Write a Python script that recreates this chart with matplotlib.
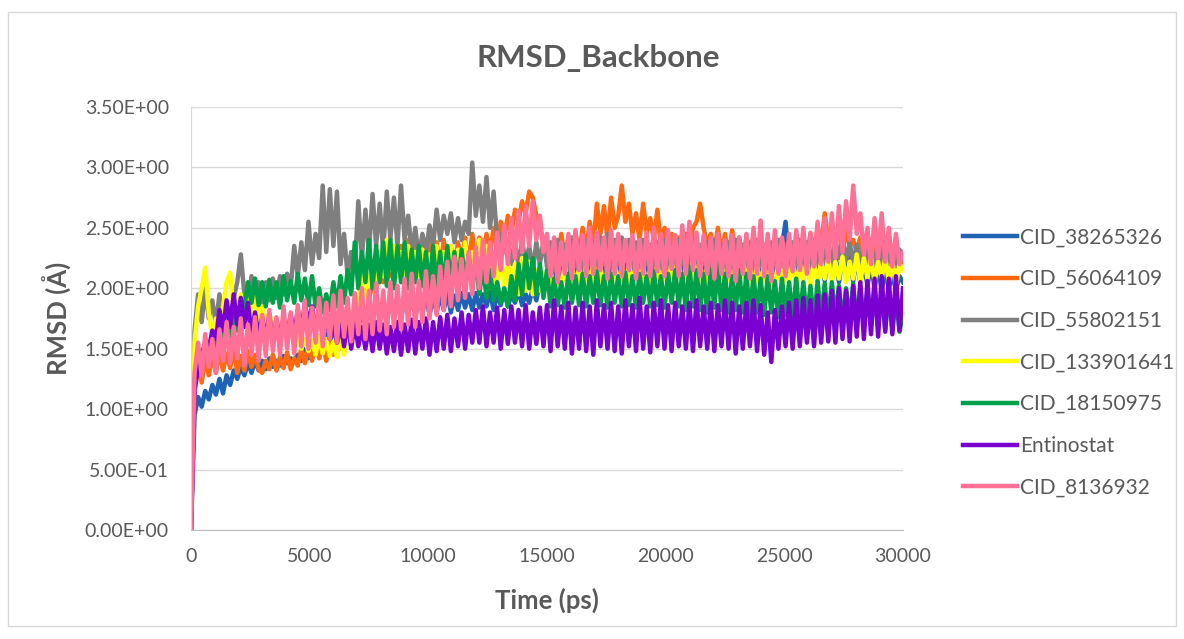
import numpy as np
import matplotlib.pyplot as plt
from matplotlib.patches import Rectangle
from matplotlib.ticker import FuncFormatter

plt.rcParams['font.family'] = ['Lato', 'DejaVu Sans']

# time grid (ps), one sample every 150 ps
time_ps = np.linspace(0, 30000, 201)

cid_38265326 = [
    0.00, 0.95, 1.10, 1.02, 1.15, 1.08, 1.20, 1.12, 1.25, 1.13,
    1.28, 1.20, 1.32, 1.25, 1.35, 1.28, 1.38, 1.30, 1.40, 1.32,
    1.40, 1.33, 1.42, 1.35, 1.40, 1.36, 1.44, 1.38, 1.42, 1.40,
    1.45, 1.40, 1.50, 1.42, 1.55, 1.45, 1.60, 1.50, 1.62, 1.55,
    1.65, 1.58, 1.70, 1.60, 1.72, 1.65, 1.78, 1.68, 1.80, 1.70,
    1.85, 1.72, 1.90, 1.75, 1.88, 1.76, 1.92, 1.78, 1.90, 1.75,
    1.92, 1.78, 1.95, 1.76, 1.92, 1.80, 1.95, 1.78, 1.93, 1.80,
    1.95, 1.82, 1.96, 1.80, 1.94, 1.82, 1.96, 1.84, 1.95, 1.82,
    1.96, 1.84, 1.95, 1.85, 1.97, 1.82, 1.95, 1.86, 1.98, 1.85,
    1.95, 1.88, 1.98, 1.86, 1.95, 1.88, 2.00, 1.90, 2.05, 2.10,
    2.10, 2.28, 2.06, 2.25, 2.08, 2.30, 2.05, 2.26, 2.10, 2.28,
    2.08, 2.30, 2.05, 2.26, 2.10, 2.28, 2.06, 2.25, 2.08, 2.30,
    2.05, 2.28, 2.10, 2.26, 2.06, 2.30, 2.08, 2.25, 2.05, 2.28,
    2.10, 2.30, 2.06, 2.26, 2.08, 2.28, 2.05, 2.25, 2.10, 2.30,
    2.06, 2.28, 2.08, 2.26, 2.05, 2.30, 2.10, 2.28, 2.06, 2.25,
    2.08, 2.30, 2.05, 2.26, 2.10, 2.28, 2.06, 2.25, 2.08, 2.30,
    2.05, 2.28, 2.10, 2.26, 2.08, 2.30, 2.35, 2.55, 2.20, 2.28,
    2.05, 2.26, 2.08, 2.28, 2.05, 2.25, 2.10, 2.28, 2.06, 2.26,
    2.08, 2.28, 2.05, 2.25, 2.10, 2.28, 2.06, 2.25, 2.05, 2.22,
    2.02, 2.20, 2.00, 2.18, 1.98, 2.15, 2.00, 2.12, 1.98, 2.10,
    2.05]

cid_56064109 = [
    0.00, 1.15, 1.38, 1.22, 1.42, 1.28, 1.45, 1.30, 1.48, 1.32,
    1.46, 1.34, 1.50, 1.30, 1.44, 1.32, 1.48, 1.35, 1.45, 1.33,
    1.30, 1.40, 1.33, 1.45, 1.32, 1.43, 1.34, 1.47, 1.33, 1.42,
    1.36, 1.50, 1.38, 1.52, 1.40, 1.55, 1.42, 1.54, 1.40, 1.56,
    1.45, 1.60, 1.50, 1.65, 1.60, 1.75, 1.70, 1.88, 1.80, 1.98,
    1.90, 2.05, 1.98, 2.15, 2.05, 2.22, 2.10, 2.30, 2.15, 2.35,
    2.20, 2.40, 2.25, 2.45, 2.22, 2.42, 2.20, 2.40, 2.18, 2.38,
    2.15, 2.40, 2.18, 2.35, 2.15, 2.38, 2.20, 2.42, 2.18, 2.45,
    2.20, 2.42, 2.25, 2.45, 2.28, 2.50, 2.35, 2.55, 2.40, 2.60,
    2.45, 2.65, 2.55, 2.72, 2.62, 2.80, 2.75, 2.60, 2.50, 2.40,
    2.35, 2.20, 2.40, 2.22, 2.45, 2.25, 2.42, 2.20, 2.46, 2.28,
    2.50, 2.30, 2.55, 2.35, 2.70, 2.45, 2.68, 2.40, 2.75, 2.50,
    2.60, 2.85, 2.55, 2.70, 2.45, 2.62, 2.40, 2.70, 2.45, 2.58,
    2.40, 2.65, 2.35, 2.50, 2.30, 2.45, 2.28, 2.42, 2.25, 2.45,
    2.30, 2.50, 2.55, 2.70, 2.50, 2.35, 2.45, 2.30, 2.50, 2.28,
    2.45, 2.25, 2.48, 2.28, 2.42, 2.22, 2.40, 2.25, 2.44, 2.20,
    2.46, 2.25, 2.40, 2.20, 2.38, 2.25, 2.40, 2.22, 2.36, 2.25,
    2.40, 2.22, 2.42, 2.28, 2.45, 2.30, 2.50, 2.35, 2.62, 2.40,
    2.50, 2.35, 2.55, 2.30, 2.48, 2.35, 2.40, 2.30, 2.42, 2.25,
    2.38, 2.22, 2.40, 2.20, 2.35, 2.18, 2.32, 2.15, 2.28, 2.18,
    2.25]

cid_55802151 = [
    0.00, 1.65, 1.95, 1.72, 2.00, 1.75, 1.90, 1.70, 1.95, 1.72,
    1.88, 1.75, 1.92, 2.05, 2.28, 1.95, 1.85, 2.10, 1.90, 2.05,
    1.88, 2.05, 1.90, 2.08, 1.92, 2.10, 1.95, 2.12, 2.00, 2.35,
    2.10, 2.38, 2.15, 2.55, 2.20, 2.45, 2.25, 2.85, 2.30, 2.82,
    2.35, 2.80, 2.20, 2.45, 2.10, 2.30, 2.15, 2.72, 2.25, 2.65,
    2.30, 2.78, 2.35, 2.70, 2.30, 2.80, 2.40, 2.75, 2.35, 2.85,
    2.40, 2.60, 2.30, 2.50, 2.25, 2.45, 2.30, 2.52, 2.35, 2.65,
    2.40, 2.60, 2.45, 2.62, 2.38, 2.58, 2.40, 2.55, 2.45, 3.04,
    2.60, 2.85, 2.55, 2.92, 2.50, 2.80, 2.40, 2.45, 2.30, 2.40,
    2.20, 2.38, 2.18, 2.40, 2.20, 2.35, 2.15, 2.38, 2.20, 2.40,
    2.18, 2.38, 2.15, 2.40, 2.20, 2.36, 2.16, 2.42, 2.18, 2.38,
    2.15, 2.40, 2.20, 2.38, 2.16, 2.42, 2.20, 2.45, 2.18, 2.40,
    2.20, 2.42, 2.25, 2.40, 2.18, 2.38, 2.15, 2.40, 2.20, 2.36,
    2.16, 2.38, 2.18, 2.40, 2.15, 2.36, 2.18, 2.40, 2.20, 2.38,
    2.15, 2.40, 2.18, 2.36, 2.20, 2.38, 2.15, 2.40, 2.18, 2.36,
    2.16, 2.38, 2.15, 2.40, 2.20, 2.36, 2.18, 2.38, 2.15, 2.40,
    2.18, 2.36, 2.15, 2.38, 2.20, 2.40, 2.18, 2.36, 2.15, 2.38,
    2.20, 2.40, 2.18, 2.38, 2.15, 2.36, 2.20, 2.40, 2.22, 2.38,
    2.20, 2.40, 2.25, 2.42, 2.22, 2.38, 2.20, 2.36, 2.18, 2.40,
    2.20, 2.38, 2.18, 2.36, 2.15, 2.38, 2.20, 2.35, 2.18, 2.32,
    2.25]

cid_133901641 = [
    0.00, 1.55, 1.85, 2.00, 2.17, 1.80, 1.60, 1.75, 1.55, 1.85,
    2.05, 2.13, 1.80, 1.70, 1.95, 1.75, 2.00, 1.80, 1.95, 1.75,
    1.85, 1.70, 1.80, 1.65, 1.75, 1.60, 1.72, 1.58, 1.70, 1.55,
    1.62, 1.50, 1.58, 1.48, 1.57, 1.45, 1.60, 1.46, 1.58, 1.44,
    1.56, 1.43, 1.60, 1.45, 1.62, 1.70, 1.95, 1.85, 2.10, 1.80,
    2.05, 2.20, 2.00, 2.30, 2.10, 2.40, 2.15, 2.35, 2.10, 2.30,
    2.12, 2.35, 2.08, 2.30, 2.10, 2.32, 2.05, 2.28, 2.10, 2.35,
    2.12, 2.30, 2.15, 2.35, 2.10, 2.32, 2.12, 2.38, 2.10, 2.30,
    2.15, 2.40, 2.10, 2.35, 2.05, 2.30, 2.00, 2.28, 2.02, 2.22,
    1.98, 2.20, 1.95, 2.25, 1.98, 2.22, 1.95, 2.15, 1.98, 2.12,
    2.00, 2.15, 1.96, 2.12, 2.00, 2.20, 1.98, 2.18, 2.02, 2.16,
    1.98, 2.20, 2.00, 2.22, 2.02, 2.18, 1.98, 2.15, 2.00, 2.20,
    2.02, 2.18, 1.98, 2.20, 2.00, 2.22, 2.04, 2.18, 2.00, 2.16,
    1.98, 2.20, 2.02, 2.18, 2.00, 2.22, 2.04, 2.20, 2.00, 2.18,
    2.02, 2.25, 2.05, 2.20, 2.00, 2.18, 1.98, 2.22, 2.02, 2.20,
    2.00, 2.18, 1.98, 2.20, 2.02, 2.24, 2.05, 2.20, 2.00, 2.18,
    2.02, 2.20, 2.00, 2.18, 1.98, 2.22, 2.02, 2.20, 2.04, 2.22,
    2.02, 2.20, 2.05, 2.24, 2.02, 2.20, 2.05, 2.22, 2.08, 2.25,
    2.05, 2.22, 2.08, 2.26, 2.05, 2.22, 2.08, 2.28, 2.05, 2.25,
    2.08, 2.26, 2.05, 2.22, 2.08, 2.25, 2.05, 2.22, 2.02, 2.20,
    2.15]

cid_18150975 = [
    0.00, 1.25, 1.45, 1.35, 1.55, 1.45, 1.62, 1.50, 1.68, 1.55,
    1.70, 1.60, 1.78, 1.65, 1.82, 1.85, 2.05, 1.88, 2.08, 1.86,
    2.05, 1.85, 2.07, 1.88, 2.05, 1.84, 2.10, 1.90, 2.06, 1.88,
    2.12, 1.90, 2.08, 1.86, 2.10, 1.85, 2.00, 1.80, 1.95, 1.82,
    2.05, 1.85, 2.10, 1.88, 2.15, 1.95, 2.38, 2.00, 2.30, 2.05,
    2.40, 2.00, 2.35, 2.05, 2.38, 2.02, 2.40, 2.00, 2.35, 2.05,
    2.38, 2.00, 2.32, 2.05, 2.35, 2.02, 2.30, 1.98, 2.35, 2.00,
    2.30, 1.98, 2.35, 2.02, 2.30, 2.00, 2.32, 2.05, 2.28, 2.00,
    2.25, 1.95, 2.20, 1.92, 2.15, 1.90, 2.05, 1.88, 2.00, 1.85,
    2.10, 1.90, 2.20, 1.95, 2.28, 2.00, 2.25, 1.95, 2.20, 1.92,
    2.15, 1.85, 2.08, 1.86, 2.05, 1.84, 2.12, 1.88, 2.10, 1.86,
    2.12, 1.85, 2.10, 1.88, 2.14, 1.86, 2.10, 1.84, 2.12, 1.88,
    2.10, 1.85, 2.13, 1.86, 2.10, 1.84, 2.12, 1.88, 2.10, 1.85,
    2.14, 1.86, 2.10, 1.84, 2.12, 1.88, 2.15, 1.85, 2.12, 1.82,
    2.18, 1.85, 2.15, 1.82, 2.12, 1.80, 2.15, 1.84, 2.20, 1.82,
    2.12, 1.80, 2.10, 1.82, 2.15, 1.80, 2.12, 1.78, 2.10, 1.80,
    2.08, 1.78, 2.10, 1.80, 2.06, 1.76, 2.08, 1.78, 2.05, 1.75,
    2.08, 1.74, 2.05, 1.75, 2.02, 1.72, 2.06, 1.74, 2.04, 1.72,
    2.05, 1.75, 2.02, 1.70, 2.00, 1.72, 2.04, 1.70, 2.00, 1.68,
    1.98, 1.70, 2.00, 1.68, 1.96, 1.66, 1.98, 1.65, 1.95, 1.64,
    1.80]

entinostat = [
    0.00, 1.15, 1.35, 1.45, 1.55, 1.50, 1.65, 1.58, 1.82, 1.65,
    1.90, 1.68, 1.95, 1.70, 1.92, 1.68, 1.88, 1.62, 1.80, 1.60,
    1.76, 1.58, 1.78, 1.55, 1.74, 1.58, 1.76, 1.60, 1.78, 1.62,
    1.82, 1.64, 1.88, 1.70, 1.85, 1.66, 1.80, 1.62, 1.75, 1.58,
    1.72, 1.55, 1.70, 1.52, 1.74, 1.50, 1.72, 1.52, 1.68, 1.50,
    1.70, 1.48, 1.72, 1.50, 1.70, 1.46, 1.68, 1.48, 1.72, 1.45,
    1.70, 1.48, 1.74, 1.46, 1.72, 1.50, 1.75, 1.45, 1.72, 1.48,
    1.76, 1.50, 1.78, 1.48, 1.75, 1.52, 1.80, 1.50, 1.78, 1.55,
    1.82, 1.55, 1.85, 1.52, 1.80, 1.55, 1.84, 1.50, 1.82, 1.54,
    1.85, 1.55, 1.82, 1.52, 1.86, 1.50, 1.80, 1.54, 1.84, 1.52,
    1.86, 1.48, 1.90, 1.52, 1.85, 1.50, 1.88, 1.46, 1.84, 1.50,
    1.88, 1.48, 1.85, 1.45, 1.90, 1.52, 1.86, 1.50, 1.88, 1.48,
    1.85, 1.46, 1.90, 1.52, 1.86, 1.48, 1.92, 1.50, 1.85, 1.47,
    1.88, 1.52, 1.90, 1.50, 1.86, 1.48, 1.88, 1.52, 1.85, 1.50,
    1.88, 1.48, 1.90, 1.52, 1.85, 1.50, 1.88, 1.48, 1.86, 1.52,
    1.90, 1.50, 1.88, 1.46, 1.85, 1.50, 1.88, 1.52, 1.90, 1.48,
    1.86, 1.45, 1.80, 1.39, 1.82, 1.50, 1.85, 1.52, 1.88, 1.50,
    1.90, 1.52, 1.92, 1.55, 1.90, 1.52, 1.94, 1.55, 1.95, 1.56,
    1.98, 1.55, 2.00, 1.58, 1.98, 1.56, 2.02, 1.60, 2.05, 1.58,
    2.06, 1.62, 2.08, 1.60, 2.10, 1.64, 2.08, 1.62, 2.10, 1.65,
    2.00]

cid_8136932 = [
    0.00, 1.30, 1.55, 1.28, 1.62, 1.35, 1.58, 1.30, 1.66, 1.40,
    1.72, 1.38, 1.68, 1.42, 1.75, 1.36, 1.70, 1.45, 1.76, 1.40,
    1.78, 1.44, 1.82, 1.48, 1.76, 1.45, 1.85, 1.50, 1.80, 1.46,
    1.86, 1.52, 1.90, 1.50, 1.84, 1.55, 1.92, 1.52, 1.88, 1.58,
    1.94, 1.55, 1.98, 1.60, 1.92, 1.56, 1.96, 1.62, 2.00, 1.58,
    1.98, 1.62, 2.04, 1.65, 1.98, 1.62, 2.05, 1.68, 2.02, 1.66,
    2.08, 1.70, 2.12, 1.68, 2.06, 1.72, 2.14, 1.75, 2.10, 1.78,
    2.18, 1.82, 2.22, 1.85, 2.26, 1.90, 2.24, 1.92, 2.30, 1.95,
    2.34, 2.00, 2.40, 2.05, 2.38, 2.10, 2.46, 2.15, 2.52, 2.20,
    2.58, 2.25, 2.64, 2.30, 2.68, 2.35, 2.72, 2.40, 2.60, 2.30,
    2.45, 2.10, 2.42, 2.05, 2.38, 2.12, 2.45, 2.08, 2.48, 2.15,
    2.44, 2.10, 2.50, 2.12, 2.46, 2.15, 2.42, 2.08, 2.48, 2.12,
    2.45, 2.10, 2.40, 2.15, 2.44, 2.08, 2.40, 2.12, 2.46, 2.10,
    2.50, 2.14, 2.45, 2.10, 2.48, 2.16, 2.44, 2.10, 2.52, 2.12,
    2.55, 2.15, 2.46, 2.10, 2.44, 2.12, 2.42, 2.08, 2.45, 2.12,
    2.40, 2.10, 2.44, 2.06, 2.42, 2.12, 2.45, 2.08, 2.50, 2.12,
    2.56, 2.10, 2.45, 2.06, 2.48, 2.12, 2.42, 2.10, 2.45, 2.14,
    2.48, 2.15, 2.50, 2.12, 2.46, 2.18, 2.55, 2.20, 2.58, 2.22,
    2.62, 2.25, 2.68, 2.30, 2.72, 2.40, 2.85, 2.45, 2.62, 2.28,
    2.50, 2.20, 2.58, 2.25, 2.62, 2.22, 2.50, 2.18, 2.45, 2.20,
    2.30]

series = [
    ('CID_38265326', cid_38265326, '#1f64b4'),
    ('CID_56064109', cid_56064109, '#ff6a10'),
    ('CID_55802151', cid_55802151, '#7f7f7f'),
    ('CID_133901641', cid_133901641, '#ffff00'),
    ('CID_18150975', cid_18150975, '#00a04a'),
    ('Entinostat', entinostat, '#7a00d2'),
    ('CID_8136932', cid_8136932, '#ff7096'),
]

grey = '#595959'

fig = plt.figure(figsize=(11.84, 6.39), dpi=100)
ax = fig.add_axes([0.1613, 0.1706, 0.6014, 0.662])

for name, vals, col in series:
    ax.plot(time_ps, vals, color=col, lw=3.2, label=name)

ax.set_xlim(0, 30000)
ax.set_ylim(0, 3.5)
ax.set_xticks(np.arange(0, 30001, 5000))
ax.set_yticks(np.arange(0, 3.51, 0.5))
ax.yaxis.set_major_formatter(FuncFormatter(lambda v, p: '%.2E' % v))
ax.tick_params(length=0, labelsize=14, colors=grey)
ax.tick_params(axis='x', pad=13)
ax.tick_params(axis='y', pad=16)
ax.grid(axis='y', color='#d9d9d9', lw=1)
ax.set_axisbelow(True)
for s in ['top', 'right']:
    ax.spines[s].set_visible(False)
ax.spines['left'].set_color('#d9d9d9')
ax.spines['bottom'].set_color('#bfbfbf')

ax.set_xlabel('Time (ps)', fontsize=18.5, fontweight='bold', color=grey)
ax.set_ylabel('RMSD (Å)', fontsize=18.5, fontweight='bold', color=grey)
ax.xaxis.set_label_coords(0.5, -0.137)
ax.yaxis.set_label_coords(-0.167, 0.5)
fig.text(0.505, 0.91, 'RMSD_Backbone', ha='center', va='center',
         fontsize=22.5, fontweight='bold', color=grey)

leg = fig.legend(loc='upper left', bbox_to_anchor=(0.813, 0.644), frameon=False,
                 fontsize=15, handlelength=2.6, handletextpad=0.15,
                 labelspacing=1.04, borderpad=0, borderaxespad=0)
for t in leg.get_texts():
    t.set_color(grey)

fig.patches.append(Rectangle((0.007, 0.02), 0.986, 0.962, transform=fig.transFigure,
                             fill=False, edgecolor='#d9d9d9', lw=1))

fig.savefig('out.png', dpi=100, facecolor='white')
